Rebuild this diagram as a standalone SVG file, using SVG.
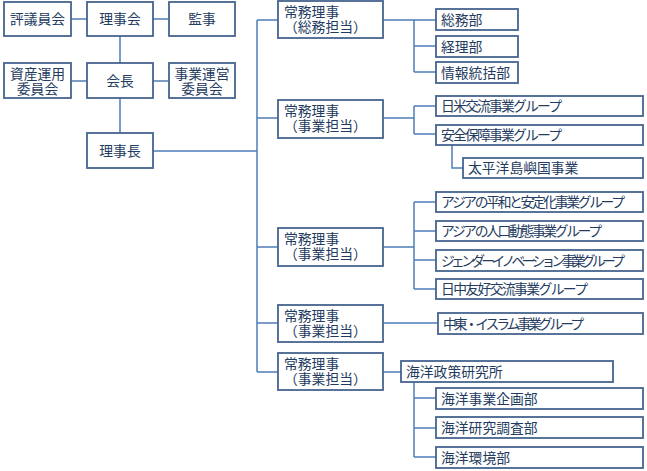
<svg xmlns="http://www.w3.org/2000/svg" width="647" height="471" viewBox="0 0 647 471">
<style>
rect{fill:#fff;stroke:#46648f;stroke-width:1.8}
text{font-family:"Noto Sans CJK JP","Noto Sans",sans-serif;font-size:13.8px;fill:#243b60}
.c{text-anchor:middle}
#connectors path{fill:none;stroke:#4f7cb8;stroke-width:1.5}
</style>
<rect x="0" y="0" width="647" height="471" style="fill:#fff;stroke:none"/>
<g id="connectors">
<path d="M71 19H87M153 19H169M120 36V63M71 81H87M153 81H169M120 98V133M153 151H257"/>
<path d="M257 20V372M257 20H278M257 118H278M257 247H278M257 323H278M257 372H278"/>
<path d="M383 20H414M414 20V72M414 20H436M414 46H436M414 72H436"/>
<path d="M383 118H414M414 106V134M414 106H436M414 134H436M452 145V168H463"/>
<path d="M383 247H414M414 202V289M414 202H436M414 231H436M414 260H436M414 289H436"/>
<path d="M383 323H438"/>
<path d="M383 372H401M414 382V457M414 398H436M414 428H436M414 457H436"/>
</g>
<g id="n1"><rect x="4" y="2" width="67" height="34"/><text class="c" x="37.5" y="24">評議員会</text></g>
<g id="n2"><rect x="87" y="2" width="66" height="34"/><text class="c" x="120" y="24">理事会</text></g>
<g id="n3"><rect x="169" y="2" width="66" height="34"/><text class="c" x="202" y="24">監事</text></g>
<g id="n4"><rect x="4" y="63" width="67" height="35"/><text class="c" x="37.5" y="79">資産運用<tspan x="37.5" dy="15">委員会</tspan></text></g>
<g id="n5"><rect x="87" y="63" width="66" height="35"/><text class="c" x="120" y="86">会長</text></g>
<g id="n6"><rect x="169" y="63" width="66" height="35"/><text class="c" x="202" y="79">事業運営<tspan x="202" dy="15">委員会</tspan></text></g>
<g id="n7"><rect x="87" y="133" width="66" height="35"/><text class="c" x="120" y="156">理事長</text></g>
<g id="d1"><rect x="278" y="1" width="105" height="37"/><text x="284" y="17">常務理事<tspan x="284" dy="15">（総務担当）</tspan></text></g>
<g id="b1"><rect x="436" y="9" width="82" height="21"/><text x="441" y="24.5">総務部</text></g>
<g id="b2"><rect x="436" y="36" width="82" height="21"/><text x="441" y="51.5">経理部</text></g>
<g id="b3"><rect x="436" y="62" width="82" height="21"/><text x="441" y="77.5">情報統括部</text></g>
<g id="d2"><rect x="278" y="100" width="105" height="38"/><text x="284" y="116">常務理事<tspan x="284" dy="15">（事業担当）</tspan></text></g>
<g id="b4"><rect x="436" y="96" width="207" height="20"/><text x="441" y="111" textLength="121" lengthAdjust="spacing">日米交流事業グループ</text></g>
<g id="b5"><rect x="436" y="125" width="207" height="20"/><text x="441" y="140" textLength="121" lengthAdjust="spacing">安全保障事業グループ</text></g>
<g id="b6"><rect x="463" y="158" width="180" height="20"/><text x="468" y="173">太平洋島嶼国事業</text></g>
<g id="d3"><rect x="278" y="228" width="105" height="38"/><text x="284" y="244">常務理事<tspan x="284" dy="15">（事業担当）</tspan></text></g>
<g id="b7"><rect x="436" y="192" width="207" height="20"/><text x="441" y="207" textLength="184" lengthAdjust="spacing">アジアの平和と安定化事業グループ</text></g>
<g id="b8"><rect x="436" y="221" width="207" height="20"/><text x="441" y="236" textLength="161" lengthAdjust="spacing">アジアの人口動態事業グループ</text></g>
<g id="b9"><rect x="436" y="250" width="207" height="21"/><text x="441" y="265.5" textLength="184" lengthAdjust="spacing">ジェンダーイノベーション事業グループ</text></g>
<g id="b10"><rect x="436" y="279" width="207" height="20"/><text x="441" y="294" textLength="147" lengthAdjust="spacing">日中友好交流事業グループ</text></g>
<g id="d4"><rect x="278" y="305" width="105" height="37"/><text x="284" y="321">常務理事<tspan x="284" dy="15">（事業担当）</tspan></text></g>
<g id="b11"><rect x="438" y="313" width="205" height="21"/><text x="443" y="328.5" textLength="141" lengthAdjust="spacing">中東・イスラム事業グループ</text></g>
<g id="d5"><rect x="278" y="353" width="105" height="37"/><text x="284" y="369">常務理事<tspan x="284" dy="15">（事業担当）</tspan></text></g>
<g id="b12"><rect x="401" y="361" width="212" height="21"/><text x="406" y="376.5">海洋政策研究所</text></g>
<g id="b13"><rect x="436" y="388" width="207" height="21"/><text x="441" y="403.5">海洋事業企画部</text></g>
<g id="b14"><rect x="436" y="417" width="207" height="21"/><text x="441" y="432.5">海洋研究調査部</text></g>
<g id="b15"><rect x="436" y="447" width="207" height="21"/><text x="441" y="462.5">海洋環境部</text></g>
</svg>
